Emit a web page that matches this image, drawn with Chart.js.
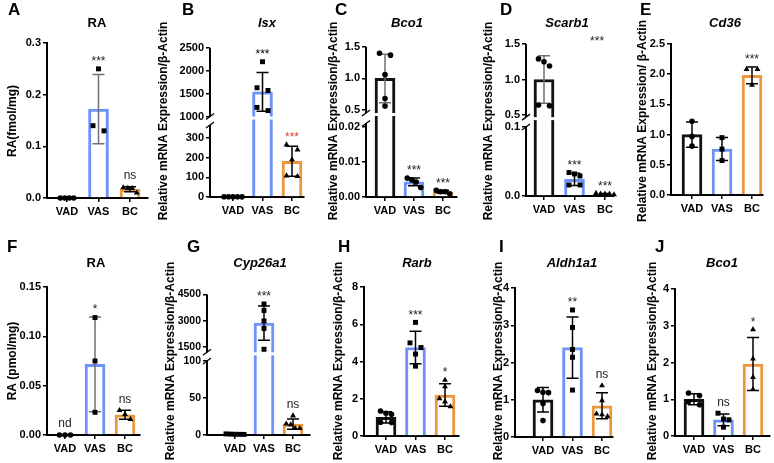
<!DOCTYPE html>
<html>
<head>
<meta charset="utf-8">
<script src="https://cdn.jsdelivr.net/npm/chart.js@4.4.0/dist/chart.umd.min.js"></script>
<style>
  html, body { margin: 0; padding: 0; background: #fff; }
  #wrap { position: relative; width: 774px; height: 463px; overflow: hidden; }
  #wrap canvas { position: absolute; left: 0; top: 0; }
</style>
</head>
<body>
<div id="wrap"></div>
<script>
'use strict';
// ******* DATA ********
const groups = ['VAD', 'VAS', 'BC'];

// A - RA (fmol/mg)
const aPoints = [[0, 0, 0, 0], [0.25, 0.14, 0.13], [0.020, 0.019, 0.019, 0.010]];
const aMeans = [0, 0.172, 0.017];
const aSD = [0, 0.067, 0.005];
const aSig = ['', '***', 'ns'];
const aTicks = [0, 0.1, 0.2, 0.3];
const aTickLabels = ['0.0', '0.1', '0.2', '0.3'];

// B - Isx
const bPoints = [[1.2, 1.0, 1.0, 0.9, 0.8], [2200, 1630, 1570, 1200, 1130], [265, 240, 190, 108, 105]];
const bMeans = [1, 1540, 181];
const bSD = [0.15, 425, 76];
const bSig = ['', '***', '***'];
const bTicks = [0, 100, 200, 300, 1000, 1500, 2000, 2500];
const bTickLabels = ['0', '100', '200', '300', '1000', '1500', '2000', '2500'];

// C - Bco1
const cPoints = [[1.40, 1.37, 1.06, 0.68, 0.56], [0.0054, 0.0049, 0.0043, 0.0027], [0.0019, 0.0015, 0.0015, 0.0009]];
const cMeans = [1.0, 0.0043, 0.0015];
const cSD = [0.386, 0.0011, 0.0004];
const cSig = ['', '***', '***'];
const cTicks = [0, 0.01, 0.02, 0.5, 1.0, 1.5];
const cTickLabels = ['0.00', '0.01', '0.02', '0.5', '1.0', '1.5'];

// D - Scarb1
const dPoints = [[1.29, 1.25, 1.19, 0.64, 0.63], [0.034, 0.032, 0.029, 0.016, 0.016], [0.004, 0.003, 0.003, 0.003, 0.002]];
const dMeans = [1.0, 0.024, 0.003];
const dSD = [0.335, 0.0088, 0.0007];
const dSig = ['', '***', '***'];
const dTicks = [0, 0.1, 0.5, 1.0, 1.5];
const dTickLabels = ['0.0', '0.1', '0.5', '1.0', '1.5'];

// E - Cd36
const ePoints = [[1.22, 0.97, 0.81], [0.95, 0.76, 0.57], [2.08, 2.08, 1.82]];
const eMeans = [1.0, 0.76, 1.98];
const eSD = [0.21, 0.19, 0.14];
const eSig = ['', '', '***'];
const eTicks = [0, 0.5, 1.0, 1.5, 2.0, 2.5];
const eTickLabels = ['0.0', '0.5', '1.0', '1.5', '2.0', '2.5'];

// F - RA (pmol/mg)
const fPoints = [[0, 0, 0], [0.119, 0.075, 0.023], [0.025, 0.021, 0.016]];
const fMeans = [0, 0.0715, 0.0205];
const fSD = [0, 0.048, 0.0045];
const fSig = ['nd', '*', 'ns'];
const fTicks = [0, 0.05, 0.10, 0.15];
const fTickLabels = ['0.00', '0.05', '0.10', '0.15'];

// G - Cyp26a1
const gPoints = [[1.5, 1.2, 1.0, 0.9, 0.8], [3956, 3584, 2990, 2558, 1370], [26, 15, 14, 9, 9]];
const gMeans = [1.1, 2860, 14.6];
const gSD = [0.3, 980, 7];
const gSig = ['', '***', 'ns'];
const gTicks = [0, 50, 100, 1500, 3000, 4500];
const gTickLabels = ['0', '50', '100', '1500', '3000', '4500'];

// H - Rarb
const hPoints = [[1.34, 1.22, 1.17, 0.74, 0.72], [6.1, 5.0, 4.75, 4.4, 3.75], [3.0, 2.65, 2.01, 1.84, 1.58]];
const hMeans = [1.0, 4.75, 2.2];
const hSD = [0.3, 0.87, 0.6];
const hSig = ['', '***', '*'];
const hTicks = [0, 2, 4, 6, 8];
const hTickLabels = ['0', '2', '4', '6', '8'];

// I - Aldh1a1
const iPoints = [[1.25, 1.2, 1.19, 0.9, 0.44], [3.41, 2.94, 2.35, 2.14, 1.26], [1.38, 0.98, 0.62, 0.6, 0.55]];
const iMeans = [1.0, 2.4, 0.84];
const iSD = [0.33, 0.82, 0.35];
const iSig = ['', '**', 'ns'];
const iTicks = [0, 1, 2, 3, 4];
const iTickLabels = ['0', '1', '2', '3', '4'];

// J - Bco1
const jPoints = [[1.17, 1.1, 0.93, 0.85], [0.62, 0.46, 0.44, 0.24], [2.9, 2.1, 1.6, 1.27]];
const jMeans = [1.0, 0.44, 1.96];
const jSD = [0.15, 0.16, 0.72];
const jSig = ['', 'ns', '*'];
const jTicks = [0, 1, 2, 3, 4];
const jTickLabels = ['0', '1', '2', '3', '4'];


// ******* LAYOUT ********
const FONT = '"Liberation Sans", Arial, sans-serif';
const groupColors = ['#111111', '#6f92f6', '#e9983f'];
const mrna = 'Relative mRNA Expression/\u03B2-Actin';
const std = ['circle', 'rect', 'triangle'];

const rows = [
  { letterY: 15, titleY: 23, yTitleY: 121 },
  { letterY: 252, titleY: 263, yTitleY: 361 }
];

// segs: [value, fraction of axis height] break points of the (possibly broken) y axis
const panels = [
  { letter: 'A', title: 'RA', italic: false, yTitle: 'RA(fmol/mg)', row: 0,
    points: aPoints, means: aMeans, sd: aSD, sig: aSig, ticks: aTicks, tickLabels: aTickLabels,
    segs: [[0, 0], [0.3, 1]], box: { axisX: 47, c0: 67, step: 31.5, end: 148, top: 43, zero: 198 },
    letterX: 8, titleX: 97, yTitleX: 13, markers: std, greyErr: [1] },
  { letter: 'B', title: 'Isx', italic: true, yTitle: mrna, row: 0,
    points: bPoints, means: bMeans, sd: bSD, sig: bSig, ticks: bTicks, tickLabels: bTickLabels,
    segs: [[0, 0], [365, 0.483], [1000, 0.540], [2500, 1]], box: { axisX: 210, c0: 233, step: 29.5, end: 304, top: 48, zero: 197 },
    letterX: 182, titleX: 267, yTitleX: 164, markers: std, greyErr: [], sigColors: ['#000', '#000', '#e53935'] },
  { letter: 'C', title: 'Bco1', italic: true, yTitle: mrna, row: 0,
    points: cPoints, means: cMeans, sd: cSD, sig: cSig, ticks: cTicks, tickLabels: cTickLabels,
    segs: [[0, 0], [0.021, 0.49], [0.45, 0.56], [1.5, 1]], box: { axisX: 366, c0: 385, step: 29, end: 457, top: 47, zero: 197 },
    letterX: 335, titleX: 407, yTitleX: 334, markers: ['circle', 'circle', 'circle'], greyErr: [0] },
  { letter: 'D', title: 'Scarb1', italic: true, yTitle: mrna, row: 0,
    points: dPoints, means: dMeans, sd: dSD, sig: dSig, ticks: dTicks, tickLabels: dTickLabels,
    segs: [[0, 0], [0.1, 0.454], [0.47, 0.519], [1.5, 1]], box: { axisX: 526, c0: 544, step: 30.5, end: 614, top: 44, zero: 196 },
    letterX: 500, titleX: 567, yTitleX: 489, markers: std, greyErr: [0],
    extra: [{ text: '***', x: 1.74, f: 1.033 }] },
  { letter: 'E', title: 'Cd36', italic: true, yTitle: 'Relative mRNA Expression/ \u03B2-Actin', row: 0,
    points: ePoints, means: eMeans, sd: eSD, sig: eSig, ticks: eTicks, tickLabels: eTickLabels,
    segs: [[0, 0], [2.5, 1]], box: { axisX: 671, c0: 692, step: 30, end: 763, top: 44, zero: 195 },
    letterX: 640, titleX: 725, yTitleX: 643, markers: std, greyErr: [] },
  { letter: 'F', title: 'RA', italic: false, yTitle: 'RA (pmol/mg)', row: 1,
    points: fPoints, means: fMeans, sd: fSD, sig: fSig, ticks: fTicks, tickLabels: fTickLabels,
    segs: [[0, 0], [0.15, 1]], box: { axisX: 47, c0: 65, step: 30, end: 140, top: 287, zero: 435 },
    letterX: 7, titleX: 96, yTitleX: 13, markers: std, greyErr: [1] },
  { letter: 'G', title: 'Cyp26a1', italic: true, yTitle: mrna, row: 1,
    points: gPoints, means: gMeans, sd: gSD, sig: gSig, ticks: gTicks, tickLabels: gTickLabels,
    segs: [[0, 0], [100, 0.527], [1200, 0.589], [4500, 1]], box: { axisX: 207, c0: 235, step: 29, end: 310, top: 294.5, zero: 435 },
    letterX: 187, titleX: 260, yTitleX: 171, tickFont: 10.5, markers: ['rect', 'rect', 'triangle'], greyErr: [] },
  { letter: 'H', title: 'Rarb', italic: true, yTitle: mrna, row: 1,
    points: hPoints, means: hMeans, sd: hSD, sig: hSig, ticks: hTicks, tickLabels: hTickLabels,
    segs: [[0, 0], [8, 1]], box: { axisX: 364, c0: 386, step: 29.5, end: 459, top: 287, zero: 436 },
    letterX: 338, titleX: 417, yTitleX: 339, markers: std, greyErr: [] },
  { letter: 'I', title: 'Aldh1a1', italic: true, yTitle: mrna, row: 1,
    points: iPoints, means: iMeans, sd: iSD, sig: iSig, ticks: iTicks, tickLabels: iTickLabels,
    segs: [[0, 0], [4, 1]], box: { axisX: 515, c0: 543, step: 29.5, end: 613, top: 288, zero: 437 },
    letterX: 499, titleX: 572, yTitleX: 499, markers: std, greyErr: [] },
  { letter: 'J', title: 'Bco1', italic: true, yTitle: mrna, row: 1,
    points: jPoints, means: jMeans, sd: jSD, sig: jSig, ticks: jTicks, tickLabels: jTickLabels,
    segs: [[0, 0], [4, 1]], box: { axisX: 675, c0: 694, step: 29.5, end: 770, top: 289, zero: 436 },
    letterX: 655, titleX: 722, yTitleX: 653, markers: std, greyErr: [] }
];

const markerRadius = { circle: 2.8, rect: 3.5, triangle: 3.4 };


// ******* HELPERS ********
function makeTf(segs) {
  return function (v) {
    for (let i = 1; i < segs.length; i++) {
      if (v <= segs[i][0] || i === segs.length - 1) {
        let a = segs[i - 1], b = segs[i];
        return a[1] + (v - a[0]) / (b[0] - a[0]) * (b[1] - a[1]);
      }
    }
  };
}

// fan out points that sit closer than 6px so they do not overlap, like a dot plot
function spread(values, tf, h) {
  let order = values.map((v, i) => i).sort((a, b) => values[b] - values[a]);
  let offsets = values.map(() => 0);
  let clusters = [];
  let cur = [];
  for (let k = 0; k < order.length; k++) {
    if (cur.length && (tf(values[cur[cur.length - 1]]) - tf(values[order[k]])) * h >= 6) {
      clusters.push(cur);
      cur = [];
    }
    cur.push(order[k]);
  }
  if (cur.length) clusters.push(cur);
  clusters.forEach(function (cl) {
    let n = cl.length;
    if (n < 2) return;
    let gap = Math.max(4.5, 11 / (n - 1));
    cl.forEach(function (idx, j) { offsets[idx] = (j - (n - 1) / 2) * gap; });
  });
  return offsets;
}

const decorPlugin = {
  id: 'decor',
  afterDatasetDraw(chart, args, opts) {
    if (args.index !== 1) return;
    const p = opts.panel;
    const ctx = chart.ctx, xs = chart.scales.x, ys = chart.scales.y, area = chart.chartArea;
    ctx.save();
    if (p.segs.length > 2) {
      const yb = ys.getPixelForValue(p.segs[2][1]);
      ctx.fillStyle = '#fff';
      ctx.fillRect(area.left + 1.5, yb, area.right - area.left, 3);
    }
    p.means.forEach(function (m, i) {
      if (!p.sd[i]) return;
      const x = xs.getPixelForValue(i);
      const y1 = ys.getPixelForValue(p.tf(m + p.sd[i]));
      const y0 = ys.getPixelForValue(p.tf(Math.max(0, m - p.sd[i])));
      ctx.strokeStyle = p.greyErr.includes(i) ? '#707070' : '#000';
      ctx.lineWidth = 1.5;
      ctx.beginPath();
      ctx.moveTo(x, y0); ctx.lineTo(x, y1);
      ctx.moveTo(x - 6, y1); ctx.lineTo(x + 6, y1);
      ctx.moveTo(x - 6, y0); ctx.lineTo(x + 6, y0);
      ctx.stroke();
    });
    ctx.restore();
  },
  afterDraw(chart, args, opts) {
    const p = opts.panel, row = rows[p.row];
    const ctx = chart.ctx, xs = chart.scales.x, ys = chart.scales.y, area = chart.chartArea;
    ctx.save();
    ctx.strokeStyle = '#000';
    // broken y axis
    if (p.segs.length > 2) {
      const yLow = ys.getPixelForValue(p.segs[1][1]);
      const yHigh = ys.getPixelForValue(p.segs[2][1]);
      ctx.lineWidth = 2;
      ctx.beginPath();
      ctx.moveTo(area.left, area.bottom + 1); ctx.lineTo(area.left, yLow);
      ctx.moveTo(area.left, yHigh); ctx.lineTo(area.left, area.top);
      ctx.stroke();
      ctx.lineWidth = 1.3;
      ctx.beginPath();
      [yLow, yHigh].forEach(function (y) {
        ctx.moveTo(area.left - 4, y + 3);
        ctx.lineTo(area.left + 4, y - 3);
      });
      ctx.stroke();
    }
    ctx.fillStyle = '#000';
    // panel letter
    ctx.font = 'bold 17px ' + FONT;
    ctx.textAlign = 'left';
    ctx.textBaseline = 'alphabetic';
    ctx.fillText(p.letter, p.letterX, row.letterY);
    // title
    ctx.font = (p.italic ? 'italic ' : '') + 'bold 13px ' + FONT;
    ctx.textAlign = 'center';
    ctx.textBaseline = 'middle';
    ctx.fillText(p.title, p.titleX, row.titleY);
    // y title
    ctx.save();
    ctx.translate(p.yTitleX, row.yTitleY);
    ctx.rotate(-Math.PI / 2);
    ctx.font = 'bold 12px ' + FONT;
    ctx.fillText(p.yTitle, 0, 0);
    ctx.restore();
    // significance labels
    ctx.font = '12px ' + FONT;
    p.sig.forEach(function (s, i) {
      if (!s) return;
      const top = Math.max(Math.max.apply(null, p.points[i]), p.means[i] + p.sd[i]);
      let y = ys.getPixelForValue(p.tf(top)) - 10;
      y += s.indexOf('*') >= 0 ? 3 : -1;
      ctx.fillStyle = p.sigColors ? p.sigColors[i] : '#222';
      ctx.fillText(s, xs.getPixelForValue(i), y);
    });
    (p.extra || []).forEach(function (t) {
      ctx.fillStyle = '#222';
      ctx.fillText(t.text, xs.getPixelForValue(t.x), ys.getPixelForValue(t.f) + 3);
    });
    ctx.restore();
  }
};


// ******* CHARTS ********
Chart.defaults.font.family = FONT;
Chart.defaults.font.size = 11;
Chart.defaults.font.weight = 'bold';
Chart.defaults.color = '#000';

const wrap = document.getElementById('wrap');

function renderPanel(p) {
  const b = p.box;
  const h = b.zero - b.top;
  const xMin = -(b.c0 - b.axisX) / b.step;
  const xMax = xMin + (b.end - b.axisX) / b.step;
  p.tf = makeTf(p.segs);

  let scatter = [], styles = [], radii = [];
  p.points.forEach(function (vals, g) {
    let offs = spread(vals, p.tf, h);
    vals.forEach(function (v, k) {
      scatter.push({ x: g + offs[k] / b.step, y: p.tf(v) });
      styles.push(p.markers[g]);
      radii.push(markerRadius[p.markers[g]]);
    });
  });

  let canvasElem = document.createElement('canvas');
  canvasElem.width = 774;
  canvasElem.height = 463;
  wrap.appendChild(canvasElem);

  new Chart(canvasElem, { // eslint-disable-line
    type: 'bar',
    data: {
      datasets: [{
        type: 'scatter',
        data: scatter,
        pointStyle: styles,
        pointRadius: radii,
        pointBackgroundColor: '#000',
        pointBorderWidth: 0,
        clip: false
      }, {
        type: 'bar',
        data: p.means.map((m, i) => ({ x: i, y: p.tf(m) })),
        backgroundColor: '#fff',
        borderColor: groupColors,
        borderWidth: 3,
        borderSkipped: 'start',
        barThickness: 20
      }]
    },
    options: {
      responsive: false,
      animation: false,
      events: [],
      layout: {
        padding: { left: b.axisX - 40, top: b.top, right: 774 - b.end, bottom: 463 - b.zero - 30 }
      },
      plugins: { legend: { display: false }, tooltip: { enabled: false }, decor: { panel: p } },
      scales: {
        x: {
          type: 'linear', min: xMin, max: xMax, offset: false,
          afterBuildTicks: s => { s.ticks = groups.map((g, i) => ({ value: i })); },
          afterFit: s => { s.height = 30; },
          ticks: { callback: (v, i) => groups[i], padding: 3, font: { size: 11, weight: 'bold' }, color: '#000', maxRotation: 0, autoSkip: false },
          grid: { display: true, offset: false, drawOnChartArea: false, tickLength: 4, color: '#000', lineWidth: 1.5 },
          border: { display: true, width: 2, color: '#000' }
        },
        y: {
          type: 'linear', min: 0, max: 1,
          afterBuildTicks: s => { s.ticks = p.ticks.map(v => ({ value: p.tf(v) })); },
          afterFit: s => { s.width = 40; },
          ticks: { callback: (v, i) => p.tickLabels[i], padding: 2, font: { size: p.tickFont || 11, weight: 'bold' }, color: '#000', autoSkip: false },
          grid: { display: true, drawOnChartArea: false, tickLength: 4, color: '#000', lineWidth: 1.5 },
          border: { display: p.segs.length <= 2, width: 2, color: '#000' }
        }
      }
    },
    plugins: [decorPlugin]
  });
}

panels.forEach(renderPanel);
</script>
</body>
</html>
